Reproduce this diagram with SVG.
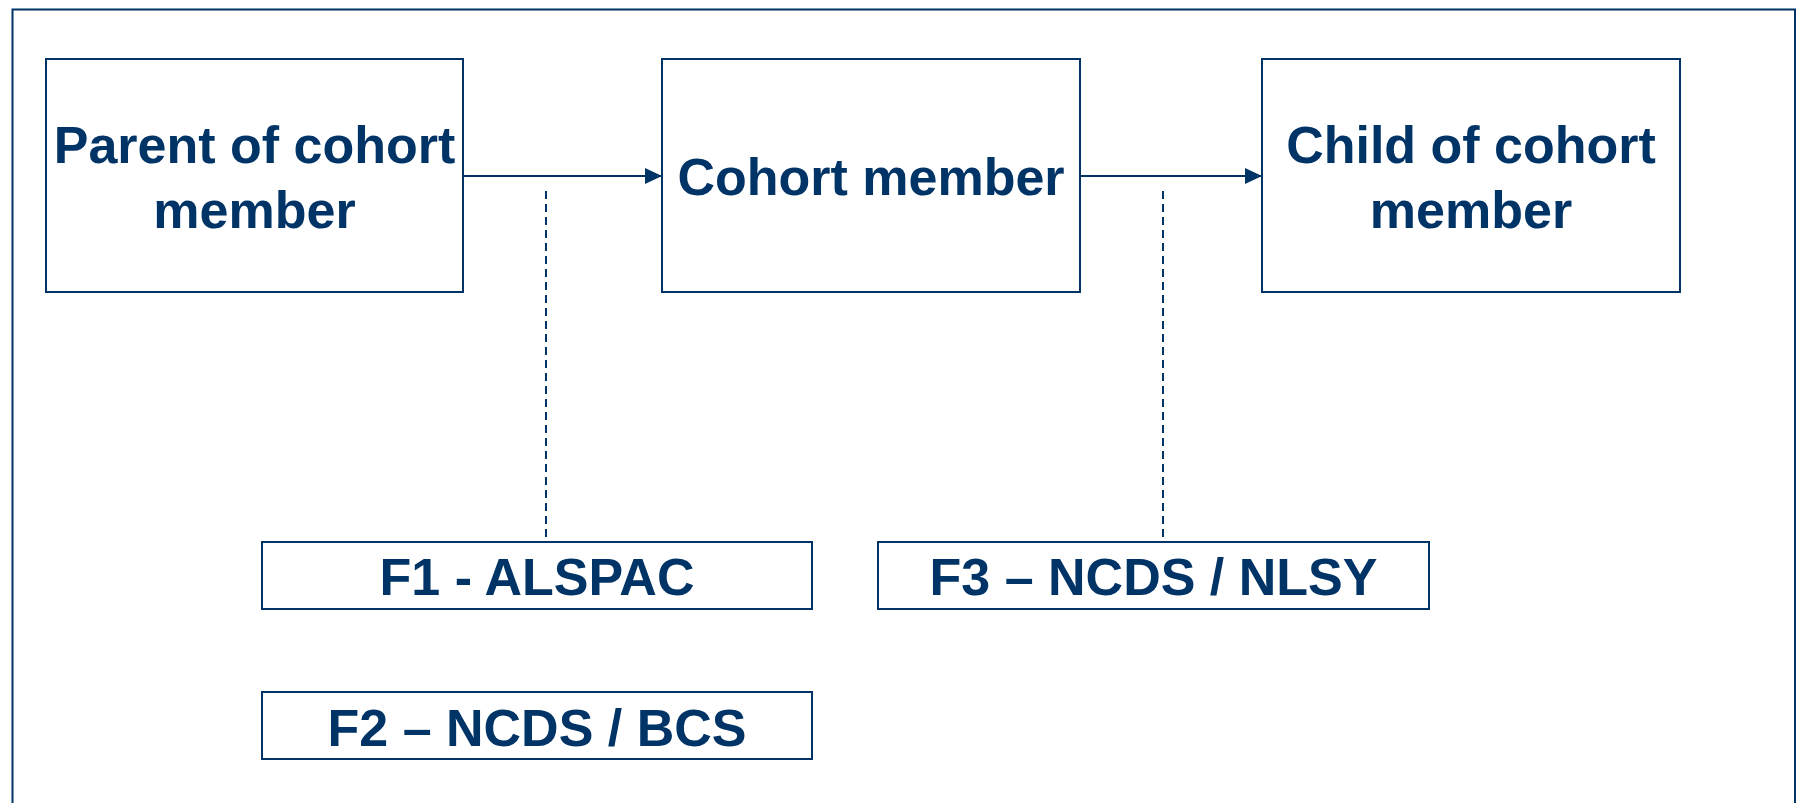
<svg xmlns="http://www.w3.org/2000/svg" width="1796" height="803" viewBox="0 0 1796 803">
<style>
.box{fill:#fff;stroke:#003366;stroke-width:2}
.t{font-family:"Liberation Sans",Arial,sans-serif;font-weight:bold;font-size:52px;fill:#003366;text-anchor:middle}
.ln{stroke:#003366;stroke-width:2;fill:none}
.dash{stroke:#003366;stroke-width:2;fill:none;stroke-dasharray:8 5}
</style>
<defs>
<marker id="arr" markerWidth="18" markerHeight="16" refX="17" refY="8" orient="auto" markerUnits="userSpaceOnUse">
<path d="M0,0 L17,8 L0,16 Z" fill="#003366"/>
</marker>
</defs>
<rect x="0" y="0" width="1796" height="803" fill="#fff"/>
<rect x="12.5" y="9.5" width="1782.5" height="830" fill="none" stroke="#003366" stroke-width="2"/>
<g id="connectors">
<line class="ln" x1="463" y1="176" x2="662" y2="176" marker-end="url(#arr)"/>
<line class="ln" x1="1080" y1="176" x2="1262" y2="176" marker-end="url(#arr)"/>
<line class="dash" x1="546" y1="191" x2="546" y2="541"/>
<line class="dash" x1="1163" y1="191" x2="1163" y2="541"/>
</g>
<g id="parent">
<rect class="box" x="46" y="59" width="417" height="233"/>
<text class="t" x="254.5" y="163">Parent of cohort</text>
<text class="t" x="254.5" y="228">member</text>
</g>
<g id="cohort">
<rect class="box" x="662" y="59" width="418" height="233"/>
<text class="t" x="871" y="195">Cohort member</text>
</g>
<g id="child">
<rect class="box" x="1262" y="59" width="418" height="233"/>
<text class="t" x="1471" y="163">Child of cohort</text>
<text class="t" x="1471" y="228">member</text>
</g>
<g id="f1">
<rect class="box" x="262" y="542" width="550" height="67"/>
<text class="t" x="537" y="595">F1 - ALSPAC</text>
</g>
<g id="f2">
<rect class="box" x="262" y="692" width="550" height="67"/>
<text class="t" x="537" y="746">F2 – NCDS / BCS</text>
</g>
<g id="f3">
<rect class="box" x="878" y="542" width="551" height="67"/>
<text class="t" x="1153.5" y="595">F3 – NCDS / NLSY</text>
</g>
</svg>
